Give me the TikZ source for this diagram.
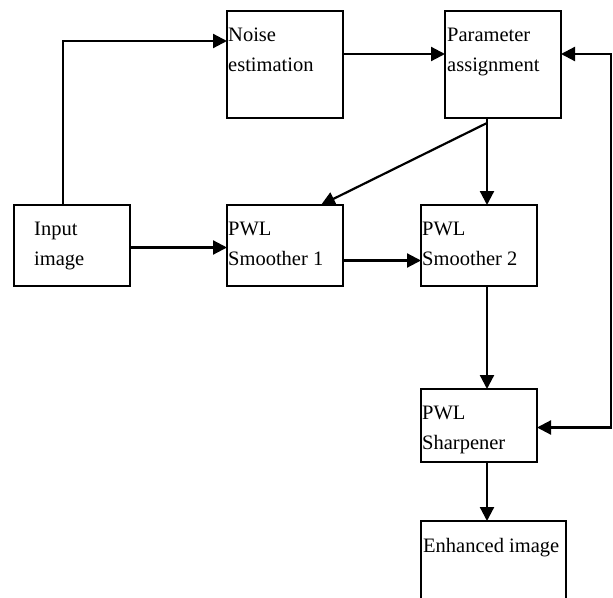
\documentclass[tikz,border=0pt]{standalone}
\usepackage{fontspec}
\setmainfont{Liberation Serif}
\usetikzlibrary{arrows.meta}

\begin{document}
\begin{tikzpicture}[
		x=1pt, y=-1pt,% pixel units, y going down
		font=\fontsize{20.5}{30}\selectfont,
		>={Triangle[length=14pt,width=14pt]},
		X/.style = {rectangle, draw, line width=1.6pt,% blocks of the diagram
			minimum width=116pt, minimum height=81pt,
			outer sep=0pt, inner sep=0pt, anchor=north west},
		L/.style = {anchor=north west, align=left, inner sep=0pt,
			xshift=#1, yshift=-17pt},% text sits in the top left corner
		L/.default=2pt,
		A/.style = {line width=2.2pt, ->},
		]
		\clip (0,0) rectangle (613,597);
		% blocks
		\node[X, label={[L=20pt]north west:Input\\image}] (inp) at (14,205) {};
		\node[X, minimum height=107pt, label={[L=1pt]north west:Noise\\estimation}] (noise) at (227,11) {};
		\node[X, minimum height=107pt, label={[L]north west:Parameter\\assignment}] (param) at (445,11) {};
		\node[X, label={[L=1pt]north west:PWL\\Smoother 1}] (sm1) at (227,205) {};
		\node[X, label={[L=1pt]north west:PWL\\Smoother 2}] (sm2) at (421,205) {};
		\node[X, minimum height=73pt, label={[L=1pt]north west:PWL\\Sharpener}] (sharp) at (421,389) {};
		\node[X, minimum width=145pt, minimum height=90pt, label={[L]north west:Enhanced image}] (enh) at (421,521) {};
		\coordinate (split) at ([xshift=42pt]param.south west);
		\coordinate (fb) at (611,54);
		% connections
		\draw[A] ([xshift=49pt]inp.north west) |- ([yshift=-30pt]noise.north west);
		\draw[A] ([yshift=-43pt]noise.north east) -- ([yshift=-43pt]param.north west);
		\draw[A] (split) -- (split |- sm2.north);
		\draw[A] ([yshift=-5pt]split) -- ([xshift=-22pt]sm1.north east);
		\draw[A] ([yshift=-2pt]inp.east) -- ([yshift=-2pt]sm1.west);
		\draw[A] ([yshift=-15pt]sm1.east) -- ([yshift=-15pt]sm2.west);
		\draw[A] (sm2.south -| split) -- (sharp.north -| split);
		\draw[A] (sharp.south -| split) -- (enh.north -| split);
		\draw[A, <->] ([yshift=-43pt]param.north east) -- (fb) |- ([yshift=-2pt]sharp.east);
		%\node at (150,400) {ACCEPTED MANUSCRIPT};
\end{tikzpicture}
\end{document}
